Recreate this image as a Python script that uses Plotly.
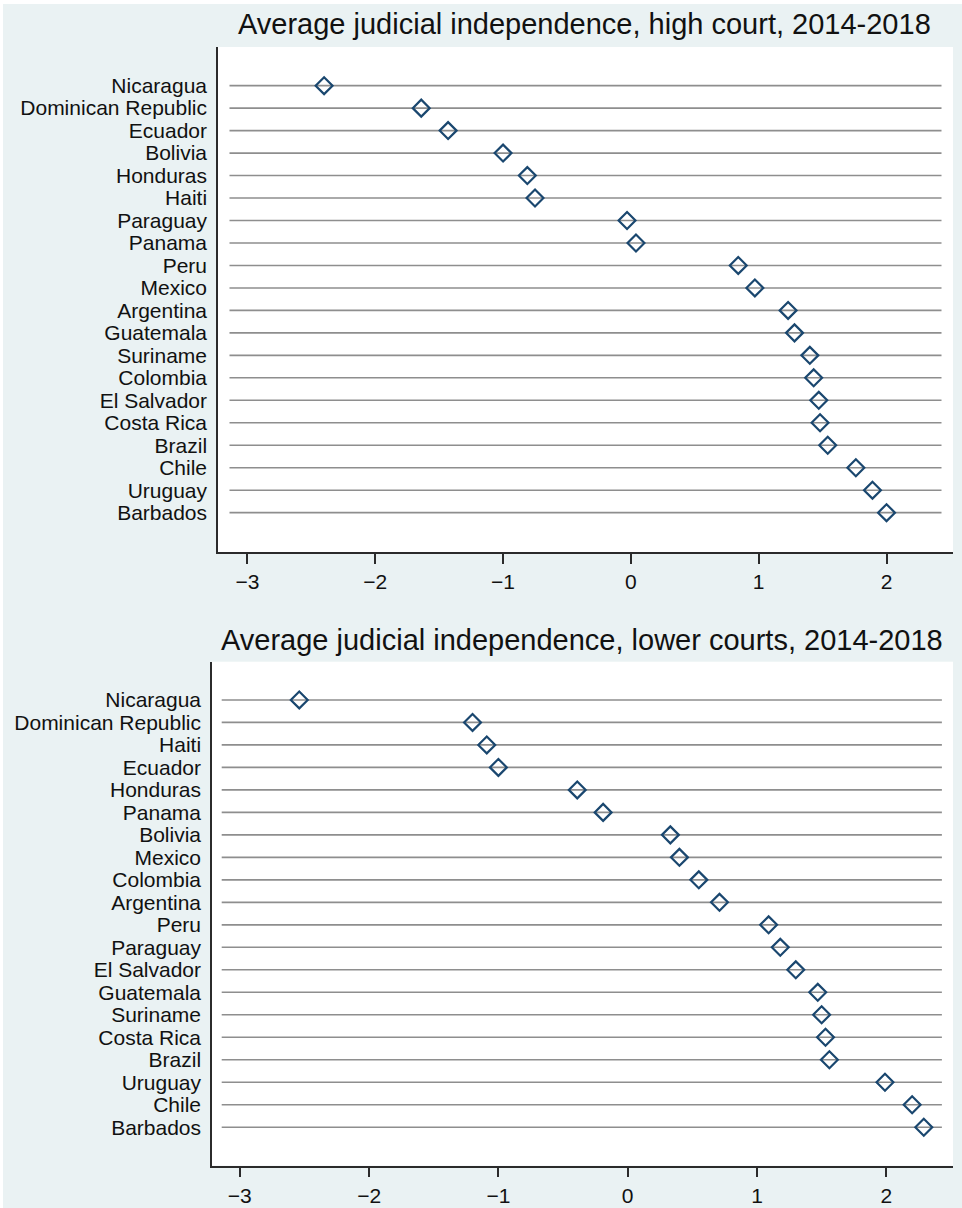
import plotly.graph_objects as go

# ---- data ----
high_countries = ["Nicaragua", "Dominican Republic", "Ecuador", "Bolivia", "Honduras",
                  "Haiti", "Paraguay", "Panama", "Peru", "Mexico", "Argentina",
                  "Guatemala", "Suriname", "Colombia", "El Salvador", "Costa Rica",
                  "Brazil", "Chile", "Uruguay", "Barbados"]
high_values = [-2.40, -1.64, -1.43, -1.00, -0.81, -0.75, -0.03, 0.04, 0.84, 0.97,
               1.23, 1.28, 1.40, 1.43, 1.47, 1.48, 1.54, 1.76, 1.89, 2.00]

lower_countries = ["Nicaragua", "Dominican Republic", "Haiti", "Ecuador", "Honduras",
                   "Panama", "Bolivia", "Mexico", "Colombia", "Argentina", "Peru",
                   "Paraguay", "El Salvador", "Guatemala", "Suriname", "Costa Rica",
                   "Brazil", "Uruguay", "Chile", "Barbados"]
lower_values = [-2.54, -1.20, -1.09, -1.00, -0.39, -0.19, 0.33, 0.40, 0.55, 0.71,
                1.09, 1.18, 1.30, 1.47, 1.50, 1.53, 1.56, 1.99, 2.20, 2.29]

x_ticks = [-3, -2, -1, 0, 1, 2]
titles = ["Average judicial independence, high court, 2014-2018",
          "Average judicial independence, lower courts, 2014-2018"]

# ---- style ----
W, H = 962, 1208
BG = "#EAF2F3"
FONT = "Liberation Sans, Arial, Helvetica, sans-serif"
NAVY = "#1a476f"
GRID = "#8e8e8e"
AXIS = "#2b2b2b"
LINE_LO, LINE_HI = -3.14, 2.43

def px_x(p):
    return p / W

def px_y(p):
    return 1 - p / H

panels = [
    dict(countries=high_countries, values=high_values, xr=[-3.23, 2.52],
         xd=[218, 953], yd=[47, 552], yr=[20.75, -1.72], title_y=24, title_cx=584.5),
    dict(countries=lower_countries, values=lower_values, xr=[-3.215, 2.516],
         xd=[212, 953], yd=[661.7, 1165.7], yr=[20.71, -1.70], title_y=640, title_cx=581.5),
]

fig = go.Figure()
layout = dict(width=W, height=H, margin=dict(l=0, r=0, t=0, b=0),
              paper_bgcolor=BG, plot_bgcolor="white", showlegend=False,
              font=dict(family=FONT, color="#111111"))
annotations = []
shapes = [
    dict(type="rect", xref="paper", yref="paper", x0=0, x1=px_x(3), y0=0, y1=1,
         fillcolor="white", line=dict(width=0), layer="below"),
    dict(type="rect", xref="paper", yref="paper", x0=0, x1=1, y0=px_y(4), y1=1,
         fillcolor="white", line=dict(width=0), layer="below"),
]

for i, p in enumerate(panels):
    n = "" if i == 0 else str(i + 1)
    xa, ya = "x" + n, "y" + n
    gx, gy = [], []
    for c in p["countries"]:
        gx += [LINE_LO, LINE_HI, None]
        gy += [c, c, None]
    fig.add_trace(go.Scatter(x=gx, y=gy, mode="lines", xaxis=xa, yaxis=ya,
                             line=dict(color=GRID, width=1.6), hoverinfo="skip"))
    fig.add_trace(go.Scatter(x=p["values"], y=p["countries"], mode="markers",
                             xaxis=xa, yaxis=ya,
                             marker=dict(symbol="diamond-open", size=13, color=NAVY,
                                         line=dict(width=2.2, color=NAVY))))
    layout["xaxis" + n] = dict(
        domain=[px_x(p["xd"][0]), px_x(p["xd"][1])], range=p["xr"], anchor=ya,
        tickvals=x_ticks, ticks="outside", ticklen=10, tickwidth=1.5, tickcolor=AXIS,
        showline=True, linecolor=AXIS, linewidth=1.5, showgrid=False, zeroline=False,
        tickfont=dict(size=21, family=FONT, color="#111111"))
    layout["yaxis" + n] = dict(
        domain=[px_y(p["yd"][1]), px_y(p["yd"][0])], range=p["yr"], anchor=xa,
        type="category", categoryorder="array", categoryarray=p["countries"],
        tickmode="array", tickvals=p["countries"], ticktext=p["countries"],
        showline=True, linecolor=AXIS, linewidth=1.5, showgrid=False, zeroline=False,
        ticks="", ticklabelstandoff=5,
        tickfont=dict(size=21, family=FONT, color="#111111"))
    annotations.append(dict(text=titles[i], xref="paper", yref="paper",
                            x=px_x(p["title_cx"]), y=px_y(p["title_y"]),
                            xanchor="center", yanchor="middle", showarrow=False,
                            font=dict(size=29, family=FONT, color="#111111")))

layout["annotations"] = annotations
layout["shapes"] = shapes
fig.update_layout(**layout)
fig.write_html("out.html", config={"displayModeBar": False},
               post_script="document.body.style.margin='0';document.body.style.overflow='hidden';")
